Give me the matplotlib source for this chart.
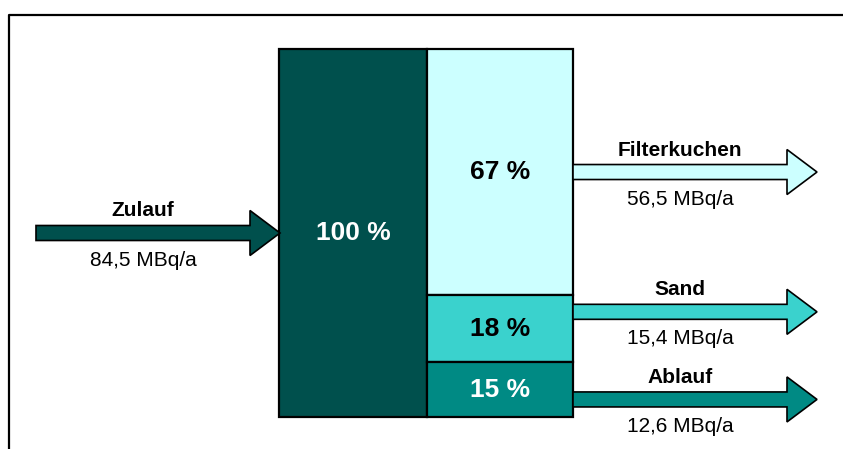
import numpy as np
import matplotlib.pyplot as plt
from matplotlib.patches import Polygon
from matplotlib.lines import Line2D

plt.rcParams['font.family'] = ['Liberation Sans', 'DejaVu Sans']

# Activity balance (MBq per year)
inflow_label = 'Zulauf'
inflow_value = 84.5
inflow_share = '100 %'
outflow_labels = ['Filterkuchen', 'Sand', 'Ablauf']
outflow_values = [56.5, 15.4, 12.6]
share_labels = ['67 %', '18 %', '15 %']
unit = 'MBq/a'

inflow_color = '#00504D'
outflow_colors = ['#CCFFFF', '#3AD2CD', '#008A84']
share_text_colors = ['black', 'black', 'white']

# layout in pixels
W, H = 843, 449
stack_top, stack_bottom = 49, 417
px = (stack_bottom - stack_top) / inflow_value   # pixels per MBq
arrow_pos = [0.5, 0.75, 0.32]                    # arrow height within each segment


def fmt(v):
    return f'{v:.1f}'.replace('.', ',') + ' ' + unit


def arrow(ax, x0, x1, yc, color):
    s = 7.5 / px
    h = 22.5 / px
    hl = 30
    pts = [(x0, yc - s), (x1 - hl, yc - s), (x1 - hl, yc - h), (x1, yc),
           (x1 - hl, yc + h), (x1 - hl, yc + s), (x0, yc + s)]
    ax.add_patch(Polygon(pts, closed=True, facecolor=color, edgecolor='black',
                         linewidth=1.2, joinstyle='miter', zorder=3))


def arrow_text(ax, xc, yc, label, value):
    ax.text(xc, yc + 22 / px, label, ha='center', va='center',
            fontsize=15, fontweight='bold')
    ax.text(xc, yc - 27 / px, fmt(value), ha='center', va='center',
            fontsize=15)


fig = plt.figure(figsize=(W / 100, H / 100), dpi=100)
ax = fig.add_axes([0, 0, 1, 1])
ax.set_xlim(0, W)
ax.set_ylim(-(H - stack_bottom) / px, stack_bottom / px)
ax.axis('off')

# frame
fig.add_artist(Line2D([9 / W, 9 / W, 1], [0, 1 - 15 / H, 1 - 15 / H],
                      color='black', linewidth=1.6))

# inflow column
ax.bar(353, inflow_value, width=148, bottom=0, color=inflow_color,
       edgecolor='black', linewidth=1.6, zorder=2)
ax.text(353, inflow_value / 2, inflow_share, ha='center', va='center',
        fontsize=19, fontweight='bold', color='white', zorder=4)

# outflow stack, first item on top
values = np.array(outflow_values)
bottoms = sum(outflow_values) - np.cumsum(values)
ax.bar(500, values, width=146, bottom=bottoms, color=outflow_colors,
       edgecolor='black', linewidth=1.6, zorder=2)
for b, v, lab, tc in zip(bottoms, values, share_labels, share_text_colors):
    ax.text(500, b + v / 2, lab, ha='center', va='center', fontsize=19,
            fontweight='bold', color=tc, zorder=4)

# inflow arrow
yc = inflow_value / 2
arrow(ax, 36, 280, yc, inflow_color)
arrow_text(ax, 143, yc, inflow_label, inflow_value)

# outflow arrows
for b, v, f, lab, c in zip(bottoms, values, arrow_pos, outflow_labels, outflow_colors):
    yc = b + f * v
    arrow(ax, 573, 817, yc, c)
    arrow_text(ax, 680, yc, lab, v)

fig.savefig('out.png', dpi=100)
